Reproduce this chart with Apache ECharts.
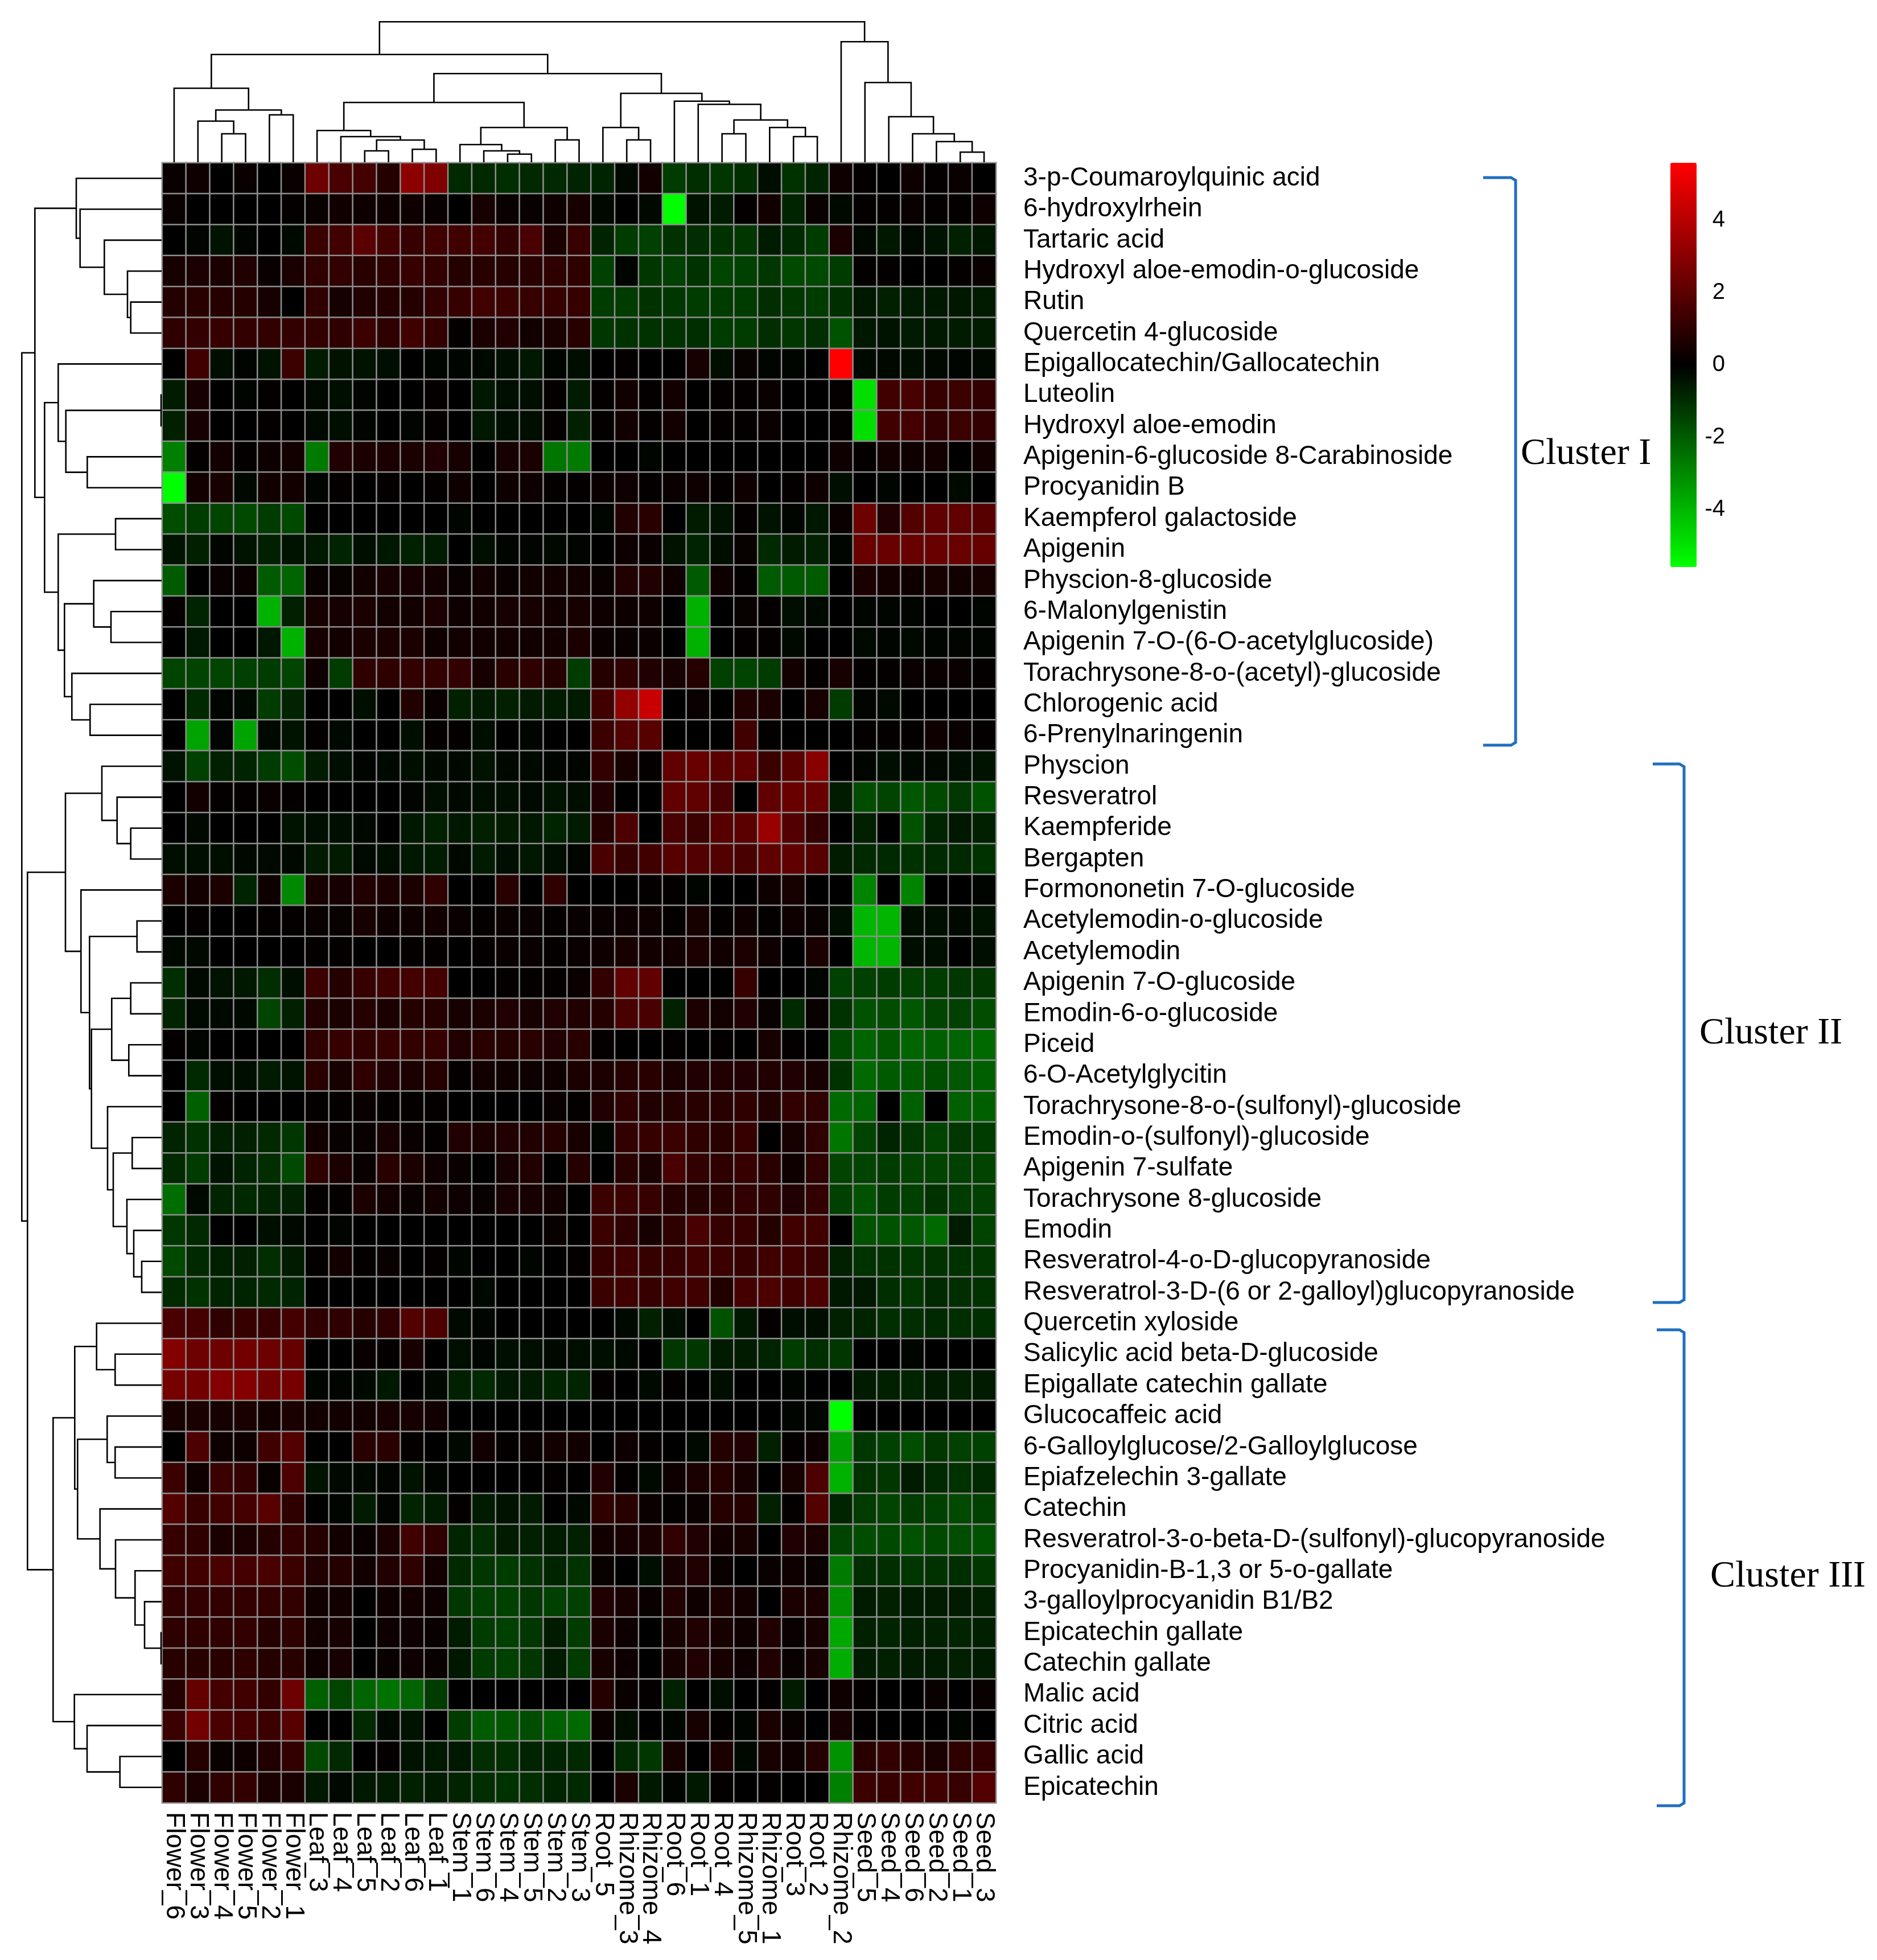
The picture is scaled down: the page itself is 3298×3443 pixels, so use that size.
<!DOCTYPE html>
<html><head><meta charset="utf-8">
<style>html,body{margin:0;padding:0;background:#fff}#c{width:3298px;height:3443px}</style>
<script src="https://cdn.jsdelivr.net/npm/echarts@6/dist/echarts.min.js"></script>
</head><body><div id="c"></div>
<script>
const sampleNames = ['Flower_6','Flower_3','Flower_4','Flower_5','Flower_2','Flower_1','Leaf_3','Leaf_4','Leaf_5','Leaf_2','Leaf_6','Leaf_1','Stem_1','Stem_6','Stem_4','Stem_5','Stem_2','Stem_3','Root_5','Rhizome_3','Rhizome_4','Root_6','Root_1','Root_4','Rhizome_5','Rhizome_1','Root_3','Root_2','Rhizome_2','Seed_5','Seed_4','Seed_6','Seed_2','Seed_1','Seed_3'];
const compoundNames = ['3-p-Coumaroylquinic acid','6-hydroxylrhein','Tartaric acid','Hydroxyl aloe-emodin-o-glucoside','Rutin','Quercetin 4-glucoside','Epigallocatechin/Gallocatechin','Luteolin','Hydroxyl aloe-emodin','Apigenin-6-glucoside 8-Carabinoside','Procyanidin B','Kaempferol galactoside','Apigenin','Physcion-8-glucoside','6-Malonylgenistin','Apigenin 7-O-(6-O-acetylglucoside)','Torachrysone-8-o-(acetyl)-glucoside','Chlorogenic acid','6-Prenylnaringenin','Physcion','Resveratrol','Kaempferide','Bergapten','Formononetin 7-O-glucoside','Acetylemodin-o-glucoside','Acetylemodin','Apigenin 7-O-glucoside','Emodin-6-o-glucoside','Piceid','6-O-Acetylglycitin','Torachrysone-8-o-(sulfonyl)-glucoside','Emodin-o-(sulfonyl)-glucoside','Apigenin 7-sulfate','Torachrysone 8-glucoside','Emodin','Resveratrol-4-o-D-glucopyranoside','Resveratrol-3-D-(6 or 2-galloyl)glucopyranoside','Quercetin xyloside','Salicylic acid beta-D-glucoside','Epigallate catechin gallate','Glucocaffeic acid','6-Galloylglucose/2-Galloylglucose','Epiafzelechin 3-gallate','Catechin','Resveratrol-3-o-beta-D-(sulfonyl)-glucopyranoside','Procyanidin-B-1,3 or 5-o-gallate','3-galloylprocyanidin B1/B2','Epicatechin gallate','Catechin gallate','Malic acid','Citric acid','Gallic acid','Epicatechin'];
const cellValues = [
[.2,.3,0,.2,0,.2,2.4,1.6,1.5,.8,3.1,2.8,-.9,-.9,-1,-.9,-.9,-.8,-.8,-.2,.4,-1.3,-1,-1.2,-1,-.3,-1.1,-.8,.3,.1,0,.3,.1,.2,0],
[.2,0,0,0,0,.1,.2,.4,.3,.3,.3,.2,0,.5,.2,.2,.3,.5,-.2,0,-.2,-5.6,-.4,-.6,.1,.4,-.8,.2,-.2,.1,.1,.2,.1,.1,.3],
[0,-.1,-.4,-.1,0,-.2,1.3,1.4,2,1.5,1.2,1.4,1.4,1.5,1.1,1.6,.6,1.2,-.8,-1.3,-1.4,-1.1,-1,-1.1,-1.2,-.6,-.9,-1.3,.6,-.2,-.5,-.2,-.4,-.7,-.5],
[.5,.6,.6,.7,.2,.6,1,1.1,.9,1,1.2,1.1,.8,.9,.8,.9,1,1,-1.4,-.1,-1.2,-1.4,-1.1,-1.5,-1.4,-1.2,-1.6,-1.6,-1.3,.1,.1,0,0,.1,.2],
[.8,.9,.8,.8,.5,0,1,.5,.7,.8,.8,1.1,1.2,1.4,1.3,1.2,1.2,1.2,-1.3,-1.3,-1.1,-1.2,-1.3,-1.3,-1.3,-1,-1.2,-1.3,-1,-.5,-.7,-.6,-.5,-.5,-.6],
[1,1.1,1.2,1.1,1.1,1.1,1.1,1,1.3,1,1.4,1.1,.1,.6,.7,.4,.6,.9,-1.2,-1.1,-1.1,-1.1,-1,-1.3,-1.3,-1,-1.2,-1,-1.8,-.5,-.4,-.6,-.5,-.6,-.6],
[0,1.4,-.3,-.1,-.4,1.3,-.6,-.4,-.4,-.3,0,-.1,-.1,-.2,-.3,-.5,-.1,-.3,0,.1,0,0,.5,-.3,.2,-.1,-.1,0,5.6,-.2,-.2,-.3,-.2,-.1,-.2],
[-.6,.5,0,-.1,.1,0,-.2,-.3,-.1,0,0,.1,0,-.5,-.3,-.3,.1,-.6,.1,.4,.1,.4,0,.1,.1,.2,0,0,.1,-4.9,1.4,1.6,1.2,1.3,1.1],
[-.7,.5,0,0,.1,0,-.2,-.3,-.1,0,-.1,.1,0,-.5,-.3,-.3,.1,-.7,.1,.4,.1,.4,0,.1,.1,.2,0,0,.1,-4.9,1.4,1.5,1.1,1.3,1.1],
[-2.8,.1,.4,.1,.3,.4,-2.7,.7,.6,.6,.6,.7,.5,0,.5,.6,-2.6,-2.7,0,0,-.1,0,0,0,0,0,0,0,.3,.1,.4,.3,.4,0,.4],
[-5.6,.4,.5,-.2,.4,.4,-.1,.1,0,.1,0,.1,.3,0,.3,.3,.1,.1,.2,.3,.1,.2,.3,.1,.3,0,.1,.3,-.3,0,-.1,0,0,-.2,0],
[-1.7,-1.3,-1.5,-1.6,-1.3,-1.6,0,0,0,0,0,0,-.1,0,0,0,0,0,-.1,.7,.9,0,-.6,-.4,.1,-.4,-.1,-.5,.2,2.4,.7,1.8,2.1,2.1,1.9],
[-.4,-.7,-.1,-.4,-.7,-.4,-.5,-.8,-.3,-.5,-.7,-.6,0,-.3,-.1,-.1,-.2,-.1,0,.3,.2,-.4,-.8,-.3,.2,-.9,-.6,-.7,-.1,2.3,2.3,2.3,2.3,2.3,2.2],
[-2,0,.2,.2,-2,-2.2,.2,.2,.4,.5,.5,.4,.2,.4,.2,.4,.4,.4,.2,.7,.7,.3,-2,.3,.1,-2,-2,-2,0,.6,.4,.3,.5,.4,.5],
[.1,-.8,0,0,-3.9,-.7,.5,.5,.6,.4,.4,.6,.3,.4,.5,.5,.4,.5,.3,.3,.3,0,-3.9,0,.2,.1,-.3,-.2,0,-.1,-.1,-.1,0,0,-.1],
[0,-.5,0,0,-.5,-3.9,.5,.4,.6,.6,.6,.3,.4,.4,.4,.4,.4,.6,.2,.2,.2,0,-3.9,0,.1,.1,-.2,0,0,-.2,-.1,-.2,-.1,-.1,-.1],
[-1.5,-1.5,-1.5,-1.4,-1.3,-1.5,.3,-1.3,1,1,1.1,1.1,1.1,.5,.9,1,.8,-1.3,.8,1,.7,.5,.8,-1.4,-1.5,-1.3,.4,.1,.5,.1,.1,.2,.2,.2,.1],
[0,-.9,-.1,-.2,-1.3,-.8,0,0,-.3,0,.7,.2,-.7,-.6,-.7,-.6,-.6,-.6,1.4,3.2,4.4,0,.2,0,.7,.6,0,.5,-1.3,-.1,-.2,0,0,0,0],
[0,-3.6,-.1,-3.6,-.2,-.4,.1,-.2,0,0,-.3,.1,.1,-.3,0,-.1,0,0,1.3,1.8,1.9,0,0,0,1.4,.1,0,0,0,.1,.1,.1,.3,.2,.1],
[-.4,-1.4,-.7,-.8,-1.3,-1.7,-.6,-.3,-.1,-.2,-.3,-.2,-.2,-.4,-.2,-.2,-.1,-.1,1.1,.5,.1,2.1,2.3,2,2.1,1.3,2,3,0,-.1,-.3,-.2,-.2,-.3,-.4],
[0,.4,.1,.1,.2,.1,0,0,0,0,-.1,-.3,-.2,-.3,-.3,-.2,-.4,-.3,.7,0,0,2.1,2.1,1.6,0,2.1,2.3,2.3,-.6,-1.7,-1.5,-1.9,-1.6,-1.2,-1.8],
[0,-.2,0,0,0,-.4,-.3,-.3,-.2,0,-.5,-.7,-.5,-.7,-.6,-.5,-.8,-.6,.8,1.7,0,1.6,1.3,1.9,2,3.4,1.8,1.1,0,-.7,0,-1.8,-.8,-.5,-.7],
[-.3,-.3,-.3,-.2,-.2,-.2,-.6,-.6,-.2,-.3,-.5,-.6,-.2,-.6,-.3,-.5,-.3,-.1,1.6,1.2,1.4,1.9,1.8,1.8,1.6,2.1,2.1,1.9,-.6,-.9,-.9,-1.1,-.9,-.9,-1.1],
[.6,.4,.6,-.8,.3,-3,.5,.5,.7,.6,.6,1,0,0,.9,0,1,0,0,0,.1,.1,-.1,0,0,.3,.5,0,0,-2.9,0,-2.9,0,0,-.1],
[0,.1,0,0,.1,.1,.2,.2,.5,.3,.3,.4,.2,.1,.2,.2,.1,.2,.2,.3,.3,.1,.5,.1,.3,.1,.3,.2,-.3,-4,-4,-.3,-.3,-.2,-.4],
[-.2,-.2,0,0,0,0,.1,.1,0,0,.1,.1,0,.1,.2,.2,.1,.2,.3,.5,.4,.4,.6,.4,.6,.3,0,.6,0,-4,-4,-.3,-.3,0,-.3],
[-1,-.2,-.4,-.5,-1,-.3,1.3,.8,1.2,1.4,1.5,1.5,0,0,.1,.1,.1,.2,1.1,2.1,2.1,0,0,0,1.2,0,0,-.1,-1.4,-1.4,-1.3,-1.4,-1.3,-1.2,-1.2],
[-.8,-.2,-.2,-.2,-1.5,-.7,.7,.6,.8,.6,.8,.8,.5,.6,.7,.5,.7,.7,.8,1.6,1.6,-.7,.6,.4,.7,.2,-.9,.2,-1.1,-1.8,-1.7,-1.9,-1.5,-1.4,-1.7],
[.1,-.1,0,0,0,0,1,1.2,1.1,1.2,1.1,1.2,.7,.9,.8,.9,.7,.9,.1,0,0,.1,0,.1,0,.5,.1,0,-1.6,-2.2,-1.9,-2.2,-2.1,-2.2,-2.3],
[0,-.9,-.3,-.3,-.6,-.4,.9,.5,1,.7,.6,.8,.1,.4,.3,.3,.3,.6,.6,.8,.9,.6,.7,.7,.7,.7,.7,.5,-1.1,-2.3,-2,-2,-1.7,-1.9,-2.1],
[0,-2.1,.1,0,0,0,.1,.1,.2,.1,.1,.1,0,0,0,0,.2,.1,.7,1,.7,.8,.9,.9,1,.7,1.1,1,-2.3,-2.2,0,-2.1,0,-2.1,-2.1],
[-.8,-1.1,-.7,-.7,-.9,-1.2,.4,.2,.2,.5,.2,.1,.7,.6,.7,.7,.8,.5,-.1,1.1,1.2,1.3,1,.9,1.2,0,.5,1,-2.6,-1.5,-.8,-1.2,-1.5,-1.2,-1.3],
[-.9,-1.3,-.4,-.8,-1,-1.6,1,.6,.2,.9,.6,.3,.2,0,.5,.7,0,.8,0,.9,.6,1.6,1.1,1,1.2,.9,.3,1,-1.5,-1.5,-1.3,-1.5,-1.5,-1.4,-1.5],
[-2.4,-.2,-.8,-.9,-.8,-.7,.1,.1,.6,.4,.2,.4,.3,.2,.5,.5,.4,0,1.3,1.3,1.2,.8,.8,.9,1.1,1,.7,1.1,-1.4,-1.8,-1.3,-1.4,-1.1,-1.3,-1.4],
[-1.2,-.9,0,0,-.3,-.2,0,-.1,0,0,0,0,0,0,0,0,.2,0,1.3,1,.5,1,1.6,1.2,1.2,.8,1.4,1.4,0,-1.8,-1.8,-1.9,-2.3,-.6,-1.5],
[-1.6,-.9,-.7,-.7,-1,-.6,.1,.4,.1,.2,0,.1,-.1,0,0,-.1,0,.1,1.2,1.4,1.2,1.2,1.4,1.3,1.2,1.4,1.4,1.3,-.7,-1.1,-1.1,-1.2,-1.1,-1.1,-1.2],
[-.9,-1.1,-.8,-.8,-.9,-.8,0,0,0,0,0,0,0,-.2,0,0,0,0,1.3,1.4,1.2,1.4,1.4,.7,1.5,1.7,1.4,1.7,-.5,-.5,-1,-1.2,-.9,-1,-1.1],
[1.6,1.5,1,1.2,1.2,1.5,1,1,.8,1,1.8,1.7,-.2,-.1,0,0,0,0,0,-.2,-.7,-.3,0,-1.8,-.5,.1,-.3,-.3,-.7,-.8,-1,-1,-.9,-1,-1],
[2.9,2.4,2.4,2.5,2.4,2.2,0,0,.2,.1,.5,0,-.3,-.1,-.3,-.3,-.2,-.3,-.3,-.2,0,-1.2,-1.2,-.6,-.6,-.8,-1.3,-1,-1.2,0,0,-.1,0,0,0],
[2.6,2.5,2.9,2.9,2.5,2.6,-.1,-.1,-.2,-.5,0,-.2,-.7,-.9,-.5,-.6,-.8,-.8,.1,0,-.2,.1,0,-.3,0,0,-.1,0,0,-.6,-.7,-.8,-.6,-.7,-.6],
[.5,.6,.5,.6,.4,.6,.4,.4,.4,.5,.5,.4,0,0,0,0,0,0,0,0,0,0,0,0,0,0,-.1,-.1,-5.6,0,0,0,0,0,0],
[0,1.7,.3,.3,1.4,1.8,0,0,.9,.9,.1,0,-.2,.4,.1,.2,.4,.4,0,.3,.1,0,-.2,.8,.7,-.7,.1,.3,-3.4,-1.2,-1.4,-1.7,-1.2,-1.4,-1.4],
[1.3,.3,1.3,1.1,.2,1.7,-.4,-.2,-.2,-.1,-.4,-.1,0,0,0,0,.1,0,.7,.1,-.2,.3,.6,.8,.5,0,.5,1.7,-3.9,-1.1,-1.2,-.6,-.9,-1.1,-.9],
[1.8,1.2,1.4,1.5,1.9,1,0,-.1,-.6,-.1,-.8,-.6,.1,-.6,-.4,-.6,0,-.2,1,.9,.2,.1,.2,.8,.8,-.7,.1,1.8,-.8,-1.3,-1.5,-1.3,-1.4,-1.6,-1.4],
[1.2,1,.6,.6,.8,1.1,.8,.4,.2,.6,1.4,1,-.8,-1,-.6,-.7,-.6,-.7,.4,.5,.6,1.1,.7,.4,.5,0,.7,.6,-1.5,-1.7,-1.6,-1.8,-1.6,-1.7,-1.8],
[1.4,1.4,1.6,1.5,1.6,1.3,.7,.8,.4,.7,1,.4,-.9,-1.2,-1.3,-1.1,-.8,-1.1,.2,0,-.3,.5,.7,.2,0,.2,.3,.2,-2.7,-1,-1,-1.2,-1.1,-1,-1.2],
[1.1,1.1,1.1,1.1,1.1,1.1,.4,.4,0,.3,.4,.3,-1.2,-1.4,-1.4,-1.2,-1.4,-1.4,.7,.5,.2,.7,.3,.6,.4,0,.6,.6,-3.1,-.6,-.7,-.6,-.6,-.6,-.7],
[1,1,1,1.1,.8,1,.4,.5,0,.3,.3,.2,-.6,-1.3,-1.4,-1.2,-.6,-1.3,.6,.3,0,.5,.7,.5,.3,.7,.2,.5,-3.7,-.7,-.8,-.7,-.7,-.8,-.7],
[.9,.9,.9,1,.8,.9,.3,.5,0,.2,.3,.2,-.5,-1.3,-1.4,-1.2,-.6,-1.3,.5,.3,0,.5,.7,.5,.3,.7,.2,.5,-3.8,-.6,-.7,-.6,-.6,-.7,-.6],
[.8,2.2,1.5,1.4,1.1,2.4,-2.1,-1.5,-2.2,-2.5,-2.2,-1.3,0,0,0,0,0,0,.8,.2,.1,-.7,0,-.3,0,.1,-.6,0,.3,.1,0,0,.2,0,.2],
[1.3,2.5,1.6,1.5,1.3,1.9,0,0,-.9,-.2,-.4,0,-1.3,-2,-1.9,-1.7,-2.1,-2.3,.2,-.3,0,-.1,.5,.1,-.1,.6,.2,0,.5,.1,0,0,0,-.1,0],
[0,.8,.2,.3,.7,1.1,-1.6,-.9,0,.1,-.4,-.5,-.5,-1,-1,-.8,-.8,-.9,0,-.9,-1.2,.5,0,.6,-.2,.5,.3,.8,-3.2,.9,1.1,.9,.6,1,1.1],
[1,.6,1,1.1,.6,.6,-.5,-.2,-.5,-.6,-.7,-.6,-.8,-1,-1.1,-1,-.8,-.9,0,.6,-.5,-.1,-.5,.1,0,.1,0,0,-2.8,1.3,1.2,1.4,1.4,1.2,1.8]
];
// Dendrogram merges: [childA, childB, height]; child >= 0 is a leaf index, child < 0 is merge number -child (1-based).
const columnMerges = [[2,3,50],[1,-1,72.3],[4,5,83.3],[-2,-3,91.7],[0,-4,130],[8,9,20],[10,11,22.7],[-6,-7,39],[7,-8,45],[6,-9,55.7],[14,15,14.3],[13,-11,20],[12,-12,31],[16,17,39.3],[-13,-14,61],[-10,-15,105],[19,20,39.3],[18,-17,61],[23,24,50],[26,27,45],[25,-20,61],[-19,-21,74.3],[22,-22,101.7],[21,-23,107.3],[-18,-24,121],[-16,-25,155.7],[-5,-26,189.3],[33,34,17.7],[32,-28,36.3],[31,-29,50],[30,-30,80],[29,-31,140],[28,-32,211.7],[-27,-33,246.7]];
const rowMerges = [[4,5,54.3],[3,-1,60],[2,-2,100.7],[1,-3,143.3],[0,-4,150],[7,8,1],[9,10,130.7],[-6,-7,168.3],[6,-8,181.7],[11,12,81],[14,15,89],[13,-11,119.3],[17,18,125.7],[16,-13,157.7],[-12,-14,170.7],[-10,-15,181.7],[-9,-16,205.7],[-5,-17,222.7],[21,22,54.3],[20,-19,78.3],[19,-20,105],[24,25,43.3],[26,27,54.3],[28,29,57.7],[-23,-24,87.7],[31,32,51.7],[35,36,35],[34,-27,49],[33,-28,61],[-26,-29,85],[30,-30,95],[-25,-31,123.3],[-22,-32,126.7],[23,-33,141.7],[-21,-34,169],[38,39,81.7],[37,-36,114.3],[41,42,81.7],[40,-38,95.7],[47,48,1],[46,-40,30],[45,-41,46.7],[44,-42,81],[43,-43,108.3],[-39,-44,147.7],[-37,-45,152.7],[51,52,73.3],[50,-47,131],[49,-48,153.3],[-46,-49,190.7],[-35,-50,235.7],[-18,-51,245.7]];
const colorTicks = [-4,-2,0,2,4];
const colorLimit = 5.6;
const clusterNames = ['Cluster I','Cluster II','Cluster III'];

function layoutMerges(merges){
  const pos = [], out = [];
  const look = c => c >= 0 ? [c + 0.5, 0] : pos[-c - 1];
  merges.forEach(m => {
    const a = look(m[0]), b = look(m[1]);
    pos.push([(a[0] + b[0]) / 2, m[2]]);
    out.push([a[0], a[1], b[0], b[1], m[2]]);
  });
  return out;
}
const heatData = [];
cellValues.forEach((r, i) => r.forEach((v, j) => heatData.push([j, i, v])));

const LINE = {stroke:'#000', lineWidth:2.6, fill:null, lineJoin:'miter'};
const hx = 285, hw = 1465, hy = 286, hh = 2881;
const txt = (s,x,y) => ({type:'text', left:x, top:y, style:{text:s, font:'66px "Liberation Serif"', fill:'#000'}});
const bracket = (x0,x1,y0,y1) => ({type:'polyline', shape:{points:[[x0,y0],[x1-8,y0],[x1,y0+5],[x1,y1-5],[x1-8,y1],[x0,y1]]}, style:{stroke:'#1f6fbf', lineWidth:5, fill:null}});

const chart = echarts.init(document.getElementById('c'), null, {renderer:'canvas'});
chart.setOption({
  animation:false,
  backgroundColor:'#fff',
  grid:[
    {left:hx, top:hy, width:hw, height:hh},
    {left:hx, top:hy-251, width:hw, height:250},
    {left:hx-251, top:hy, width:250, height:hh},
    {left:2935, top:286, width:46, height:710}
  ],
  xAxis:[
    {type:'category', gridIndex:0, data:sampleNames, position:'bottom',
     axisLine:{show:false}, axisTick:{show:false}, splitLine:{show:false},
     axisLabel:{interval:0, rotate:-90, margin:16, color:'#000', fontFamily:'Liberation Sans', fontSize:46}},
    {type:'value', gridIndex:1, min:0, max:35, show:false},
    {type:'value', gridIndex:2, min:0, max:250, inverse:true, show:false},
    {type:'value', gridIndex:3, min:0, max:1, show:false}
  ],
  yAxis:[
    {type:'category', gridIndex:0, data:compoundNames, inverse:true, position:'right',
     axisLine:{show:false}, axisTick:{show:false}, splitLine:{show:false},
     axisLabel:{interval:0, margin:48, color:'#000', fontFamily:'Liberation Sans', fontSize:46}},
    {type:'value', gridIndex:1, min:0, max:250, show:false},
    {type:'value', gridIndex:2, min:0, max:53, inverse:true, show:false},
    {type:'value', gridIndex:3, min:-colorLimit, max:colorLimit, position:'right',
     axisLine:{show:false}, axisTick:{show:false}, splitLine:{show:false},
     axisLabel:{customValues:colorTicks, margin:50, align:'right', color:'#000', fontFamily:'Liberation Sans', fontSize:40}}
  ],
  visualMap:{type:'continuous', seriesIndex:0, min:-colorLimit, max:colorLimit, calculable:false,
    left:2935, top:286, itemWidth:46, itemHeight:710, padding:0, text:null, showLabel:false,
    textStyle:{color:'rgba(0,0,0,0)', fontSize:1},
    inRange:{color:['#00ff00','#000000','#ff0000']}},
  series:[
    {type:'heatmap', xAxisIndex:0, yAxisIndex:0, data:heatData, silent:true,
     itemStyle:{borderColor:'#8f8f8f', borderWidth:2.5}, progressive:0},
    {type:'custom', xAxisIndex:1, yAxisIndex:1, data:layoutMerges(columnMerges), silent:true, clip:false,
     renderItem(p, api){
       const a=api.coord([api.value(0),api.value(1)]), at=api.coord([api.value(0),api.value(4)]),
             b=api.coord([api.value(2),api.value(3)]), bt=api.coord([api.value(2),api.value(4)]);
       return {type:'polyline', shape:{points:[a,at,bt,b]}, style:LINE};
     }},
    {type:'custom', xAxisIndex:2, yAxisIndex:2, data:layoutMerges(rowMerges), silent:true, clip:false,
     renderItem(p, api){
       const a=api.coord([api.value(1),api.value(0)]), at=api.coord([api.value(4),api.value(0)]),
             b=api.coord([api.value(3),api.value(2)]), bt=api.coord([api.value(4),api.value(2)]);
       return {type:'polyline', shape:{points:[a,at,bt,b]}, style:LINE};
     }}
  ],
  graphic:[
    bracket(2606,2663,312,1309),
    bracket(2904,2959,1342,2288),
    bracket(2911,2959,2336,3172),
    txt(clusterNames[0],2672,765),
    txt(clusterNames[1],2986,1783),
    txt(clusterNames[2],3005,2737)
  ]
});
</script></body></html>
